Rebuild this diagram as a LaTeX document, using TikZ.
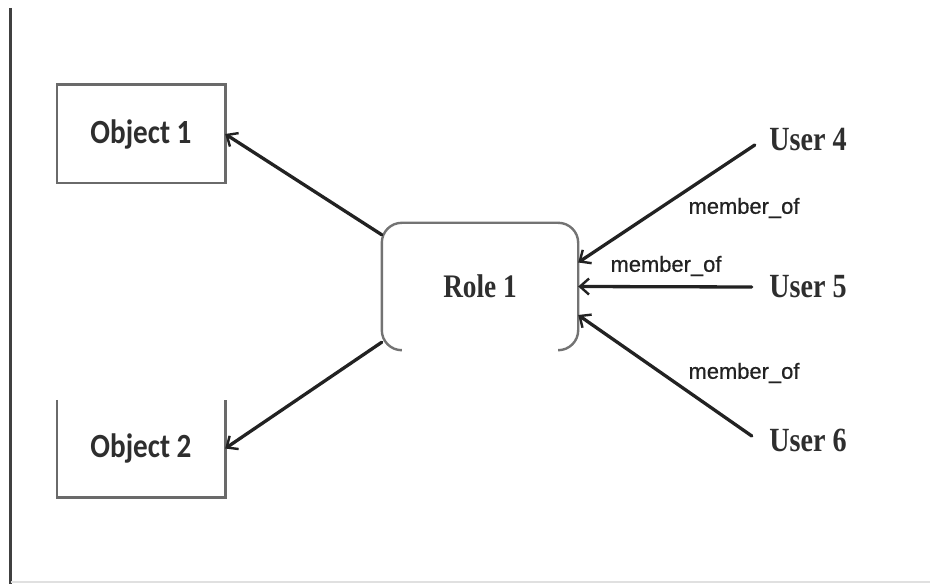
\documentclass[tikz,border=0pt]{standalone}
\usepackage{fontspec}
\setmainfont{Liberation Serif}
\newfontfamily\userfont[FakeStretch=0.83]{Liberation Serif}
\newfontfamily\objfont[FakeStretch=0.86]{Carlito}
\newfontfamily\labfont[FakeBold=0.6]{Liberation Sans}
\usetikzlibrary{arrows.meta}
\definecolor{txt}{HTML}{2E2E2E}
\definecolor{boxgray}{HTML}{6A6A6A}
\definecolor{arrgray}{HTML}{222222}
\tikzset{
  objbox/.style={minimum width=168bp, minimum height=98bp, inner sep=0pt, text=txt,
    font=\objfont\bfseries\fontsize{34}{38}\selectfont},
  rolebox/.style={minimum width=196bp, minimum height=127bp, inner sep=0pt, text=txt,
    font=\userfont\bfseries\fontsize{33}{38}\selectfont},
  usertext/.style={minimum width=80bp, inner sep=0pt, text=txt,
    font=\userfont\bfseries\fontsize{34}{38}\selectfont},
  lab/.style={inner sep=0pt, text=arrgray, font=\labfont\fontsize{22}{26}\selectfont},
  boxline/.style={draw=boxgray, line width=2.6bp},
  arr/.style={draw=arrgray, line width=3.3bp, line cap=round,
    -{Straight Barb[length=9bp, width=16bp, line width=2.4bp]}},
}
\begin{document}
\begin{tikzpicture}[x=1bp, y=-1bp]
\useasboundingbox (0,0) rectangle (930,584);
% frame lines
\draw[draw=black!75, line width=3bp] (10,8) -- (10,584);
\draw[draw=black!12, line width=2bp] (11,582) -- (930,582);
% objects
\node[objbox] (obj1) at (141,134) {Object 1};
\draw[boxline] (obj1.north west) rectangle (obj1.south east);
\node[objbox, minimum height=97bp] (obj2) at (141,448.5) {Object 2};
\draw[boxline] (obj2.north west) -- (obj2.south west) -- (obj2.south east) -- (obj2.north east);
% role
\node[rolebox, text depth=-6bp] (role) at (480,286.5) {Role 1};
\draw[boxline, draw=black!55, line width=2.4bp, rounded corners=20bp]
  ([xshift=18bp]role.south west) -- (role.south west) -- (role.north west)
  -- (role.north east) -- (role.south east) -- ([xshift=-18bp]role.south east);
% users
\node[usertext] (u4) at (808,140) {User 4};
\node[usertext] (u5) at (808,287) {User 5};
\node[usertext] (u6) at (808,440) {User 6};
% arrows
\draw[arr] ([yshift=-12bp]role.north west) -- (obj1.east);
\draw[arr] ([yshift=8bp]role.south west) -- (obj2.east);
\draw[arr] ([xshift=-13bp, yshift=-5bp]u4.west) -- ([yshift=24bp]role.east);
\draw[arr] ([xshift=-16bp]u5.west) -- (role.east);
\draw[arr] ([xshift=-16bp, yshift=4bp]u6.west) -- ([yshift=-28.5bp]role.east);
% labels
\node[lab] (l4) at (744,208) {member\_of};
\node[lab] (l5) at (666,266) {member\_of};
\node[lab] (l6) at (744,373) {member\_of};
\end{tikzpicture}
\end{document}
